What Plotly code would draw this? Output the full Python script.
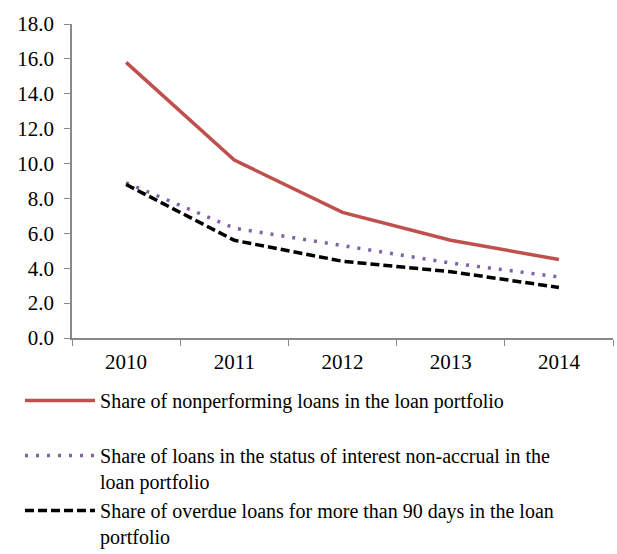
import plotly.graph_objects as go

years = ["2010", "2011", "2012", "2013", "2014"]
nonperforming = [15.8, 10.2, 7.2, 5.6, 4.5]
non_accrual = [8.9, 6.3, 5.3, 4.3, 3.5]
overdue_90 = [8.8, 5.6, 4.4, 3.8, 2.9]
y_ticks = [0, 2, 4, 6, 8, 10, 12, 14, 16, 18]

names = [
    "Share of nonperforming loans in the loan portfolio<br> ",
    "Share of loans in the status of interest non-accrual in the<br>loan portfolio",
    "Share of overdue loans for more than 90 days in the loan<br>portfolio",
]

fig = go.Figure()
fig.add_trace(go.Scatter(x=years, y=nonperforming, mode="lines", name=names[0],
                         line=dict(color="#C0504D", width=3.5)))
fig.add_trace(go.Scatter(x=years, y=non_accrual, mode="lines", name=names[1],
                         line=dict(color="#8064A2", width=3.5, dash="3px,8px")))
fig.add_trace(go.Scatter(x=years, y=overdue_90, mode="lines", name=names[2],
                         line=dict(color="#000000", width=3.5, dash="9px,4px")))

family = "Liberation Serif, Times New Roman, serif"
font = dict(family=family, size=21, color="#000000")
legend_font = dict(family=family, size=20, color="#000000")

fig.update_layout(
    width=617, height=554,
    margin=dict(l=72, r=4, t=24, b=216, autoexpand=False),
    paper_bgcolor="white", plot_bgcolor="white",
    font=font,
    showlegend=True,
    legend=dict(x=-0.0961, xanchor="left", y=-0.137, yanchor="top",
                orientation="v", valign="top", itemwidth=70,
                font=legend_font, tracegroupgap=0, traceorder="normal",
                bgcolor="rgba(0,0,0,0)"),
    xaxis=dict(type="category", range=[-0.5, 4.5], tickson="boundaries",
               ticks="outside", ticklen=6, tickcolor="#888888",
               ticklabelstandoff=4,
               showline=True, linecolor="#888888", linewidth=1.5,
               showgrid=False, zeroline=False, tickfont=font),
    yaxis=dict(range=[0, 18], tickvals=y_ticks, tickformat=".1f",
               ticks="outside", ticklen=6, tickcolor="#888888",
               ticklabelstandoff=6,
               showline=True, linecolor="#888888", linewidth=1.5,
               showgrid=False, zeroline=False, tickfont=font),
)

fig.write_html("out.html", config={"displayModeBar": False},
               post_script="document.body.style.margin='0';")
